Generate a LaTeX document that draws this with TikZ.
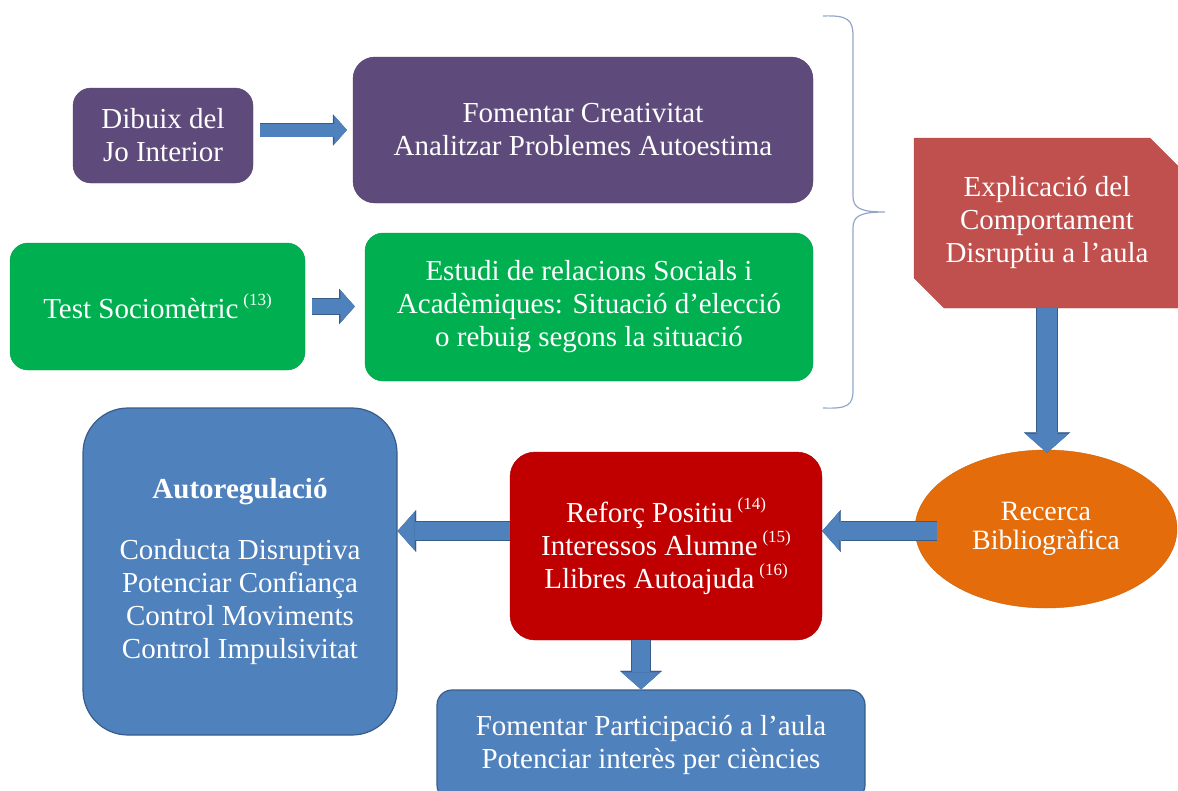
\documentclass[tikz,border=0pt]{standalone}
\usepackage{fontspec}
\setmainfont{Liberation Serif}
\usepackage{tikz}
\usetikzlibrary{arrows.meta,positioning,shapes.geometric,shapes.misc}
\usepackage{xcolor}

\definecolor{boxpurple}{HTML}{5F4B7B}
\definecolor{boxgreen}{HTML}{00B050}
\definecolor{boxbrick}{HTML}{C0504D}
\definecolor{boxorange}{HTML}{E46C0A}
\definecolor{boxblue}{HTML}{4F81BD}
\definecolor{boxblueedge}{HTML}{385D8A}
\definecolor{boxred}{HTML}{C00000}
\definecolor{arrowblue}{HTML}{4F81BD}
\definecolor{arrowedge}{HTML}{385D8A}
\definecolor{bracegray}{HTML}{94A6C8}

\newcommand{\refnum}[1]{\,\raisebox{13pt}{\fontsize{17}{17}\selectfont(#1)}}

\begin{document}
\begin{tikzpicture}[x=1pt, y=-1pt,
    basebox/.style={text=white, align=center, font=\fontsize{29}{33}\selectfont},
    roundbox/.style={basebox, rounded corners=18pt},
    purplebox/.style={roundbox, fill=boxpurple, draw=boxpurple!85!black},
    greenbox/.style={roundbox, fill=boxgreen, draw=boxgreen!90!black},
    brickbox/.style={basebox, fill=boxbrick, draw=boxbrick!90!black},
    orangebox/.style={basebox, fill=boxorange, draw=boxorange!90!black},
    redbox/.style={roundbox, rounded corners=25pt, fill=boxred, draw=boxred!85!black},
    bluebox/.style={roundbox, fill=boxblue, draw=boxblueedge, line width=1.2pt},
    barrow/.style={draw=arrowblue, line width=#1,
      -{Triangle[width=0pt 2.15, length=0pt 0.95, line width=0.3pt]},
      preaction={draw=arrowedge, line width=#1+1.6pt,
        -{Triangle[width=0pt 2.15, length=0pt 0.95, line width=0.3pt]}}}
  ]
  \useasboundingbox (0,0) rectangle (1178,790);

  \node[purplebox, minimum width=180pt, minimum height=95pt] (dibuix) at (163,135.5) {Dibuix del\\Jo Interior};
  \node[purplebox, rounded corners=22pt, minimum width=460pt, minimum height=146pt] (foment) at (583,130) {Fomentar Creativitat\\Analitzar Problemes Autoestima};
  \node[greenbox, minimum width=295pt, minimum height=127pt] (test) at (157.5,306.5) {Test Sociomètric\refnum{13}};
  \node[greenbox, minimum width=448pt, minimum height=148pt] (estudi) at (589,307) {Estudi de relacions Socials i\\Acadèmiques: Situació d’elecció\\o rebuig segons la situació};
  \node[brickbox, chamfered rectangle, chamfered rectangle corners={north east,south west},
        chamfered rectangle xsep=27pt, minimum width=266pt, minimum height=170pt] (explic) at (1047,223) {Explicació del\\Comportament\\Disruptiu a l’aula};
  \node[orangebox, ellipse, font=\fontsize{28}{29}\selectfont, minimum width=262pt, minimum height=158pt] (recerca) at (1046,529) {Recerca\\Bibliogràfica};
  \node[redbox, minimum width=312pt, minimum height=188pt] (reforc) at (666,546) {Reforç Positiu\refnum{14}\\Interessos Alumne\refnum{15}\\Llibres Autoajuda\refnum{16}};
  \node[bluebox, rounded corners=45pt, minimum width=314pt, minimum height=327pt] (regul) at (240,571.5) {\textbf{Autoregulació}\\[28pt]Conducta Disruptiva\\Potenciar Confiança\\Control Moviments\\Control Impulsivitat};
  \node[bluebox, rounded corners=15pt, minimum width=428pt, minimum height=110pt] (partic) at (651,745) {Fomentar Participació a l’aula\\Potenciar interès per ciències};

  % brace round the two upper rows
  \draw[bracegray, line width=1.2pt] (823,16) .. controls (848,15) and (853,20) .. (853,36) -- (853,196)
    .. controls (853,208) and (860,212) .. (885,212) .. controls (860,212) and (853,216) .. (853,228)
    -- (853,390) .. controls (853,405) and (848,409) .. (823,408);

  \draw[barrow=13pt, shorten <=7pt, shorten >=6pt] (foment.west -| dibuix.east) -- (foment.west);
  \draw[barrow=15pt, shorten <=7pt, shorten >=10pt] (test.east) -- (test.east -| estudi.west);
  \draw[barrow=20pt, shorten >=-3pt] (explic.south) -- (explic.south |- recerca.north);
  \draw[barrow=18pt, shorten <=-22pt] ([yshift=-2pt]recerca.west) -- ([yshift=-2pt]recerca.west -| reforc.east);
  \draw[barrow=18pt] ([yshift=15pt]reforc.west) -- ([yshift=15pt]reforc.west -| regul.east);
  \draw[barrow=18pt] ([xshift=-25pt]reforc.south) -- ([xshift=-25pt]reforc.south |- partic.north);
\end{tikzpicture}
\end{document}
